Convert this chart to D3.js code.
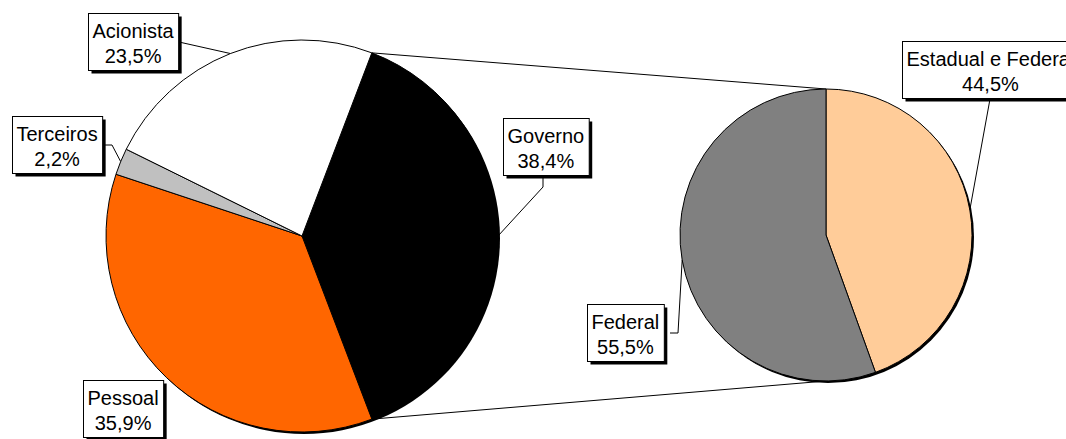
<!DOCTYPE html>
<html>
<head>
<meta charset="utf-8">
<script src="https://cdn.jsdelivr.net/npm/d3@7/dist/d3.min.js"></script>
<style>
  body { margin: 0; background: #fff; }
  svg { display: block; font-family: "Liberation Sans", Arial, sans-serif; }
</style>
</head>
<body>
<svg id="chart" width="1066" height="439"></svg>
<script>
// dados do grafico principal
const mainLabels = ["Governo", "Pessoal", "Terceiros", "Acionista"];
const mainValues = [38.4, 35.9, 2.2, 23.5];
const mainColors = ["#000000", "#FF6600", "#C0C0C0", "#FFFFFF"];
// dados do grafico secundario (detalhe do Governo)
const subLabels = ["Estadual e Federal", "Federal"];
const subValues = [44.5, 55.5];
const subColors = ["#FFCC99", "#808080"];

const svg = d3.select("#chart");
const fmt = v => d3.format(".1f")(v).replace(".", ",") + "%";

// geometria das pizzas
const main = {cx: 302, cy: 236, r: 196};
const sub = {cx: 826, cy: 235, r: 146};

// fatia do governo centrada a direita
const govShare = mainValues[0] / d3.sum(mainValues);
const mainStart = Math.PI / 2 - govShare * Math.PI;

const mainPie = d3.pie().sort(null).value(d => d.value)
    .startAngle(mainStart).endAngle(mainStart + 2 * Math.PI);
const subPie = d3.pie().sort(null).value(d => d.value);

const mainArcs = mainPie(mainLabels.map((l, i) => ({label: l, value: mainValues[i], color: mainColors[i]})));
const subArcs = subPie(subLabels.map((l, i) => ({label: l, value: subValues[i], color: subColors[i]})));

function edgePoint(p, a){
    return [p.cx + p.r * Math.sin(a), p.cy - p.r * Math.cos(a)];
}

// linhas de ligacao entre as pizzas
const gov = mainArcs[0];
const p1 = edgePoint(main, gov.startAngle), p2 = edgePoint(main, gov.endAngle);
svg.append("line").attr("x1", p1[0]).attr("y1", p1[1])
    .attr("x2", sub.cx).attr("y2", sub.cy - sub.r)
    .attr("stroke", "#000").attr("stroke-width", 1);
svg.append("line").attr("x1", p2[0]).attr("y1", p2[1])
    .attr("x2", sub.cx).attr("y2", sub.cy + sub.r)
    .attr("stroke", "#000").attr("stroke-width", 1);

function drawPie(p, arcs){
    svg.append("circle").attr("cx", p.cx + 2).attr("cy", p.cy + 2).attr("r", p.r).attr("fill", "#000");
    const arc = d3.arc().innerRadius(0).outerRadius(p.r);
    svg.append("g").attr("transform", `translate(${p.cx},${p.cy})`)
        .selectAll("path").data(arcs).enter().append("path")
        .attr("d", arc)
        .attr("fill", d => d.data.color)
        .attr("stroke", "#000").attr("stroke-width", 1)
        .attr("stroke-linejoin", "round");
}
drawPie(main, mainArcs);
drawPie(sub, subArcs);

// posicao dos rotulos: canto superior esquerdo, ponto de saida e cotovelo
const labelLayout = {
    "Acionista":          {pie: main, x: 88,  y: 13,  from: [179, 42], elbow: null},
    "Terceiros":          {pie: main, x: 12,  y: 116, from: [102, 145], elbow: [112, 145]},
    "Governo":            {pie: main, x: 503, y: 118, from: [543, 177], elbow: [543, 187]},
    "Pessoal":            {pie: main, x: 83,  y: 380, from: null, elbow: null},
    "Estadual e Federal": {pie: sub,  x: 902, y: 41,  from: [990, 99], elbow: null},
    "Federal":            {pie: sub,  x: 587, y: 304, from: [670, 333], elbow: [678, 333]}
};

const allArcs = mainArcs.concat(subArcs);

// linhas guia
allArcs.forEach(d => {
    const L = labelLayout[d.data.label];
    if(!L.from) return;
    const mid = (d.startAngle + d.endAngle) / 2;
    const e = edgePoint(L.pie, mid);
    const pts = [L.from];
    if(L.elbow) pts.push(L.elbow);
    pts.push(e);
    svg.append("path").attr("d", d3.line()(pts))
        .attr("fill", "none").attr("stroke", "#000").attr("stroke-width", 1);
});

// caixas dos rotulos
allArcs.forEach(d => {
    const L = labelLayout[d.data.label];
    const g = svg.append("g").attr("transform", `translate(${L.x},${L.y})`);
    const shadow = g.append("rect").attr("fill", "#000");
    const box = g.append("rect").attr("fill", "#fff").attr("stroke", "#000").attr("stroke-width", 1);
    const t = g.append("text").attr("font-size", 20).attr("text-anchor", "middle").attr("fill", "#000");
    const l1 = t.append("tspan").attr("y", 25).text(d.data.label);
    const l2 = t.append("tspan").attr("y", 50).text(fmt(d.data.value));
    const w = Math.max(l1.node().getComputedTextLength(), l2.node().getComputedTextLength()) + 9;
    const h = 57;
    l1.attr("x", w / 2); l2.attr("x", w / 2);
    box.attr("x", 0.5).attr("y", 0.5).attr("width", w).attr("height", h);
    shadow.attr("x", 3.5).attr("y", 3.5).attr("width", w).attr("height", h);
});
</script>
</body>
</html>
